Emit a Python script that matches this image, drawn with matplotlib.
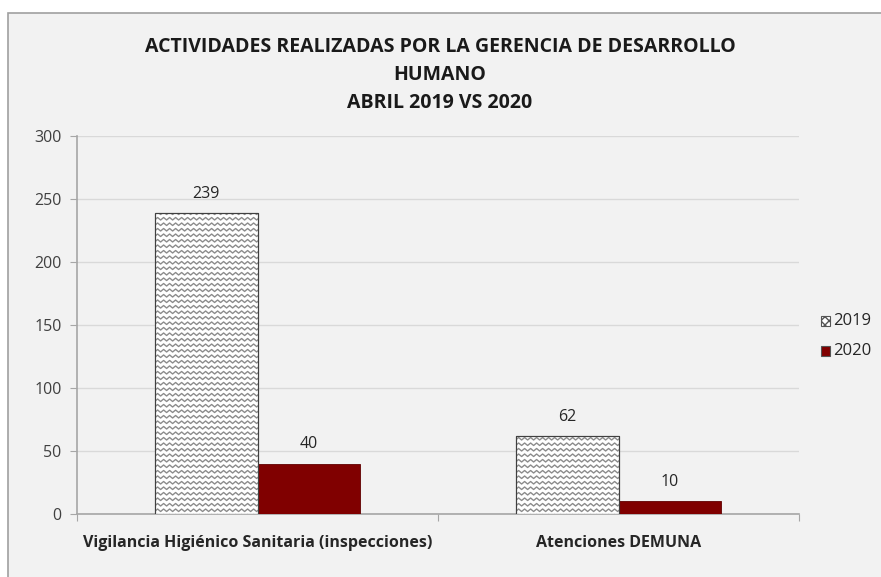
import numpy as np
import matplotlib.pyplot as plt
from matplotlib.patches import Rectangle

categorias = ['Vigilancia Higiénico Sanitaria (inspecciones)', 'Atenciones DEMUNA']
anios = ['2019', '2020']
valores_2019 = [239, 62]
valores_2020 = [40, 10]
titulo = 'ACTIVIDADES REALIZADAS POR LA GERENCIA DE DESARROLLO\nHUMANO\nABRIL 2019 VS 2020'

plt.rcParams['font.family'] = ['Open Sans', 'DejaVu Sans']

W, H = 881, 577
fig = plt.figure(figsize=(W / 100, H / 100), dpi=100)
fig.patch.set_facecolor('white')
fig.patches.append(Rectangle((8 / W, -0.01), 1.0, 1 - 13 / H + 0.01, transform=fig.transFigure,
                             facecolor='#f2f2f2', edgecolor='#a0a0a0', linewidth=1.2, zorder=-5))

ax = fig.add_axes([77 / W, 1 - 514 / H, (799 - 77) / W, (514 - 136) / H])
ax.set_facecolor('none')

x = np.arange(len(categorias))
bw = 0.285
b1 = ax.bar(x - bw / 2, valores_2019, bw, facecolor='white', edgecolor='#404040', linewidth=0.8, zorder=3)
b2 = ax.bar(x + bw / 2, valores_2020, bw, facecolor='#800000', edgecolor='#600000', linewidth=0.6, zorder=3)

ax.set_xlim(-0.5, 1.5)
ax.set_ylim(0, 300)

# zigzag fill for the 2019 bars
px_x = 2.0 / (799 - 77)
px_y = 300 / (514 - 136)
for rect in b1:
    x0, w, h = rect.get_x(), rect.get_width(), rect.get_height()
    xs = np.arange(x0, x0 + w + 6 * px_x, 3 * px_x)
    zz = np.where(np.arange(len(xs)) % 2 == 0, 0, 2.5 * px_y)
    for y0 in np.arange(-3 * px_y, h, 5.5 * px_y):
        ln, = ax.plot(xs, y0 + zz, color='#8c8c8c', linewidth=1.0, zorder=3.5)
        ln.set_clip_path(rect)
    ax.add_patch(Rectangle((x0, 0), w, h, facecolor='none', edgecolor='#404040', linewidth=0.8, zorder=4))

for rects in (b1, b2):
    for r in rects:
        ax.text(r.get_x() + r.get_width() / 2, r.get_height() + 9, str(int(r.get_height())),
                ha='center', va='bottom', fontsize=11.5, color='#262626')

ax.set_yticks(np.arange(0, 301, 50))
ax.yaxis.grid(True, color='#d9d9d9', linewidth=1)
ax.set_axisbelow(True)
ax.tick_params(axis='y', length=5, color='#a6a6a6', labelsize=11.5, labelcolor='#404040', pad=6)
ax.set_xticks([-0.5, 0.5, 1.5])
ax.set_xticklabels([])
ax.set_xticks(x, minor=True)
ax.set_xticklabels(categorias, minor=True, fontsize=11.5, fontweight='bold', color='#262626')
ax.tick_params(axis='x', which='major', length=5, color='#a6a6a6')
ax.tick_params(axis='x', which='minor', length=0, pad=15)
for s in ('top', 'right'):
    ax.spines[s].set_visible(False)
for s in ('left', 'bottom'):
    ax.spines[s].set_color('#a6a6a6')
    ax.spines[s].set_linewidth(1.2)

fig.text(440 / W, 1 - 37 / H, titulo, ha='center', va='top', fontsize=14, fontweight='bold',
         color='#1a1a1a', linespacing=1.55)

# legend
for i, lab in enumerate(anios):
    yy = 1 - (321 + 30 * i) / H
    fc = 'white' if i == 0 else '#800000'
    fig.patches.append(Rectangle((821 / W, yy - 5 / H), 9 / W, 10 / H, transform=fig.transFigure,
                                 facecolor=fc, edgecolor='#555555', linewidth=0.8, zorder=5,
                                 hatch='xxxx' if i == 0 else None))
    fig.text(833 / W, yy, lab, ha='left', va='center', fontsize=12, color='#262626')

fig.savefig('out.png', dpi=100)
